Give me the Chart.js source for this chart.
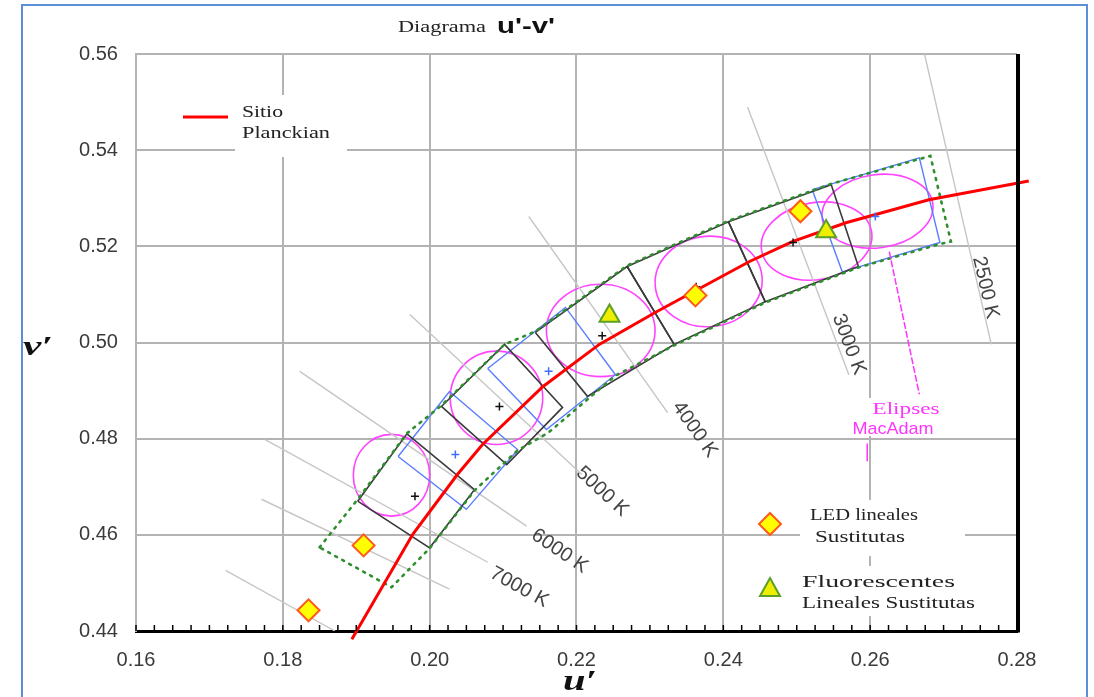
<!DOCTYPE html>
<html>
<head>
<meta charset="utf-8">
<script src="https://cdn.jsdelivr.net/npm/chart.js@4.4.0/dist/chart.umd.min.js"></script>
<style>
  html, body { margin: 0; padding: 0; background: #fff; }
  #wrap { position: relative; width: 1094px; height: 697px; overflow: hidden; }
  #frame { position: absolute; left: 21px; top: 4px; width: 1063px; height: 720px; border: 2px solid #5b8fd6; border-bottom: none; }
  canvas { position: absolute; left: 0; top: 0; }
</style>
</head>
<body>
<div id="wrap">
  <div id="frame"></div>
  <canvas id="c" width="1094" height="697"></canvas>
</div>
<script>
// axes
const xTicks = [0.16, 0.18, 0.20, 0.22, 0.24, 0.26, 0.28];
const yTicks = [0.44, 0.46, 0.48, 0.50, 0.52, 0.54, 0.56];

// Planckian locus
const locusU = [0.1894, 0.1977, 0.2038, 0.2072, 0.2154, 0.2231, 0.2309, 0.2435, 0.2494, 0.2567, 0.2680, 0.2816];
const locusV = [0.4383, 0.4601, 0.4726, 0.4788, 0.4908, 0.4996, 0.5064, 0.5168, 0.5210, 0.5249, 0.5297, 0.5336];

// isotherms
const isoNames = ["2500 K", "3000 K", "4000 K", "5000 K", "6000 K", "7000 K", "", ""];
const isoFrom = [[0.2674, 0.5600], [0.2433, 0.5490], [0.2135, 0.5262], [0.1973, 0.5058], [0.1823, 0.4940], [0.1776, 0.4798], [0.1771, 0.4674], [0.1722, 0.4526]];
const isoTo = [[0.2765, 0.4996], [0.2571, 0.4933], [0.2324, 0.4854], [0.2207, 0.4726], [0.2132, 0.4618], [0.2079, 0.4543], [0.2027, 0.4487], [0.1871, 0.4400]];
const isoLabelAt = [[0.2757, 0.5114], [0.2571, 0.4996], [0.2361, 0.4819], [0.2235, 0.4690], [0.2177, 0.4566], [0.2122, 0.4491], null, null];

// tolerance band (green dotted)
const bandU = [0.1850, 0.1901, 0.1969, 0.2016, 0.2102, 0.2144, 0.2269, 0.2407, 0.2547, 0.2682, 0.2710, 0.2695, 0.2584, 0.2457, 0.2333, 0.2253, 0.2162, 0.2120, 0.2061, 0.2000, 0.1948, 0.1850];
const bandV = [0.4574, 0.4672, 0.4811, 0.4869, 0.4996, 0.5023, 0.5160, 0.5253, 0.5330, 0.5388, 0.5210, 0.5205, 0.5156, 0.5083, 0.4994, 0.4931, 0.4813, 0.4776, 0.4692, 0.4572, 0.4491, 0.4574];

// quadrangles (black)
const quadsBlack = [
  [[0.1902, 0.4670], [0.1969, 0.4810], [0.2061, 0.4694], [0.2000, 0.4573]],
  [[0.2016, 0.4867], [0.2102, 0.4996], [0.2181, 0.4865], [0.2105, 0.4746]],
  [[0.2144, 0.5021], [0.2269, 0.5158], [0.2333, 0.4996], [0.2215, 0.4888]],
  [[0.2269, 0.5158], [0.2407, 0.5251], [0.2457, 0.5085], [0.2333, 0.4996]],
  [[0.2407, 0.5251], [0.2547, 0.5328], [0.2584, 0.5158], [0.2457, 0.5085]]
];
const centersBlack = [[0.1980, 0.4680], [0.2095, 0.4867], [0.2235, 0.5014], [0.2363, 0.5116], [0.2495, 0.5208]];

// quadrangles (blue)
const quadsBlue = [
  [[0.1957, 0.4763], [0.2027, 0.4898], [0.2120, 0.4777], [0.2050, 0.4653]],
  [[0.2079, 0.4946], [0.2185, 0.5073], [0.2253, 0.4933], [0.2159, 0.4819]],
  [[0.2521, 0.5318], [0.2667, 0.5384], [0.2695, 0.5208], [0.2562, 0.5147]]
];
const centersBlue = [[0.2035, 0.4767], [0.2162, 0.4940], [0.2607, 0.5262]];

// MacAdam ellipses: centre, half axes (u', v'), tilt in degrees
const macU = [0.1948, 0.2091, 0.2233, 0.2380, 0.2527, 0.2610];
const macV = [0.4724, 0.4885, 0.5025, 0.5127, 0.5211, 0.5273];
const macRu = [0.0052, 0.0063, 0.0074, 0.0073, 0.0076, 0.0076];
const macRv = [0.0085, 0.0097, 0.0096, 0.0094, 0.0080, 0.0076];
const macTilt = [0, 0, 0, -5, -10, -8];

// lamps
const ledU = [0.1835, 0.1910, 0.2362, 0.2505];
const ledV = [0.4443, 0.4578, 0.5098, 0.5273];
const fluoU = [0.2245, 0.2540];
const fluoV = [0.5055, 0.5231];

const pts = (us, vs) => us.map((u, i) => ({ x: u, y: vs[i] }));
const pairs = (arr) => arr.map(p => ({ x: p[0], y: p[1] }));

function path(data, color, width, order, extra) {
  return Object.assign({
    type: "scatter", showLine: true, data, borderColor: color, borderWidth: width,
    pointRadius: 0, fill: false, tension: 0, order
  }, extra || {});
}

const datasets = [];
isoFrom.forEach((a, i) => datasets.push(path(pairs([a, isoTo[i]]), "#c6c6c6", 1.4, 60)));
quadsBlue.forEach(q => datasets.push(path(pairs(q.concat([q[0]])), "#5a7dff", 1.4, 50)));
quadsBlack.forEach(q => datasets.push(path(pairs(q.concat([q[0]])), "#3a3a3a", 1.6, 45)));
datasets.push(path(pts(bandU, bandV), "#2f8f2f", 2.6, 40, { borderDash: [2, 6], borderCapStyle: "round" }));
datasets.push(path(pts(locusU, locusV), "#ff0000", 3, 30, { clip: false }));
datasets.push({ type: "scatter", data: pairs(centersBlack), pointStyle: "cross", pointRadius: 4, borderColor: "#111", borderWidth: 1.5, order: 20 });
datasets.push({ type: "scatter", data: pairs(centersBlue), pointStyle: "cross", pointRadius: 4, borderColor: "#3f6dff", borderWidth: 1.5, order: 20 });
datasets.push({ type: "scatter", data: pts(ledU, ledV), pointStyle: "rectRot", pointRadius: 11, backgroundColor: "#ffff00", borderColor: "#ff5a1e", borderWidth: 2, order: 10 });
datasets.push({ type: "scatter", data: pts(fluoU, fluoV), pointStyle: "triangle", pointRadius: 11.5, backgroundColor: "#eeee00", borderColor: "#5c9e2a", borderWidth: 2, order: 10 });

// text, optionally stretched to a given width (the picture is widened)
function text(ctx, s, x, y, font, color, align, angle, width) {
  ctx.save();
  ctx.font = font;
  const k = width ? width / ctx.measureText(s).width : 1;
  ctx.translate(x, y);
  if (angle) ctx.rotate(angle);
  ctx.scale(k, 1);
  ctx.fillStyle = color;
  ctx.textAlign = align || "left";
  ctx.textBaseline = "middle";
  ctx.fillText(s, 0, 0);
  ctx.restore();
}

const SERIF = "'Liberation Serif', 'Times New Roman', serif";
const SANS = "'Liberation Sans', Arial, sans-serif";

const decor = {
  id: "decor",
  beforeDatasetsDraw(chart) {
    const { ctx } = chart;
    const sx = chart.scales.x, sy = chart.scales.y;
    ctx.save();
    ctx.fillStyle = "#fff";
    ctx.fillRect(235, 95, 112, 62);
    ctx.fillRect(800, 500, 165, 56);
    ctx.fillRect(798, 566, 182, 50);
    ctx.fillRect(848, 398, 108, 38);
    // MacAdam ellipses
    ctx.strokeStyle = "#ff44ff";
    ctx.lineWidth = 1.6;
    macU.forEach((u, i) => {
      const cx = sx.getPixelForValue(u), cy = sy.getPixelForValue(macV[i]);
      const rx = sx.getPixelForValue(u + macRu[i]) - cx;
      const ry = cy - sy.getPixelForValue(macV[i] + macRv[i]);
      ctx.beginPath();
      ctx.ellipse(cx, cy, rx, ry, macTilt[i] * Math.PI / 180, 0, Math.PI * 2);
      ctx.stroke();
    });
    ctx.restore();
  },
  afterDatasetsDraw(chart) {
    const { ctx, chartArea: a } = chart;
    const sx = chart.scales.x, sy = chart.scales.y;
    const X = u => sx.getPixelForValue(u), Y = v => sy.getPixelForValue(v);

    // tick labels
    xTicks.forEach(t => text(ctx, t.toFixed(2), X(t), 660, "20px " + SANS, "#3a3a3a", "center", 0, 39));
    yTicks.forEach(t => text(ctx, t.toFixed(2), 118, Y(t), "20px " + SANS, "#3a3a3a", "right", 0, 39));

    // isotherm labels, along their lines
    isoLabelAt.forEach((p, i) => {
      if (!p) return;
      const ang = Math.atan2(Y(isoTo[i][1]) - Y(isoFrom[i][1]), X(isoTo[i][0]) - X(isoFrom[i][0]));
      text(ctx, isoNames[i], X(p[0]), Y(p[1]), "20px " + SANS, "#444", "center", ang);
    });

    // pointer to the ellipses
    ctx.save();
    ctx.strokeStyle = "#ff33ff";
    ctx.lineWidth = 1.5;
    ctx.setLineDash([7, 2]);
    ctx.beginPath();
    ctx.moveTo(X(0.2626), Y(0.5189));
    ctx.lineTo(X(0.2667), Y(0.4892));
    ctx.stroke();
    ctx.setLineDash([]);
    ctx.beginPath();
    ctx.moveTo(X(0.2596), Y(0.4790));
    ctx.lineTo(X(0.2596), Y(0.4753));
    ctx.stroke();
    ctx.restore();
    text(ctx, "Elipses", 906, 410, "17px " + SERIF, "#ff33ff", "center", 0, 67);
    text(ctx, "MacAdam", 893, 429, "17px " + SANS, "#ff33ff", "center", 0, 81);

    // minor ticks on the u' axis
    ctx.save();
    ctx.strokeStyle = "#000";
    ctx.lineWidth = 1.5;
    ctx.beginPath();
    for (let k = 0; k <= 48; k++) {
      const x = X(0.16 + k * 0.0025);
      ctx.moveTo(x, a.bottom);
      ctx.lineTo(x, a.bottom - 6);
    }
    ctx.stroke();
    // right frame
    ctx.lineWidth = 4;
    ctx.beginPath();
    ctx.moveTo(a.right + 1, a.top);
    ctx.lineTo(a.right + 1, a.bottom + 1.5);
    ctx.stroke();
    ctx.restore();

    // legend: Planckian locus
    ctx.save();
    ctx.strokeStyle = "#ff0000";
    ctx.lineWidth = 3;
    ctx.beginPath();
    ctx.moveTo(183, 117);
    ctx.lineTo(228, 117);
    ctx.stroke();
    ctx.restore();
    text(ctx, "Sitio", 242, 113, "17px " + SERIF, "#222", "left", 0, 41);
    text(ctx, "Planckian", 242, 134, "17px " + SERIF, "#222", "left", 0, 88);

    // legend: lamps
    ctx.save();
    ctx.fillStyle = "#ffff00";
    ctx.strokeStyle = "#ff5a1e";
    ctx.lineWidth = 2;
    ctx.beginPath();
    ctx.moveTo(759, 524); ctx.lineTo(770, 513); ctx.lineTo(781, 524); ctx.lineTo(770, 535); ctx.closePath();
    ctx.fill(); ctx.stroke();
    ctx.fillStyle = "#eeee00";
    ctx.strokeStyle = "#5c9e2a";
    ctx.beginPath();
    ctx.moveTo(770, 578); ctx.lineTo(780, 596); ctx.lineTo(760, 596); ctx.closePath();
    ctx.fill(); ctx.stroke();
    ctx.restore();
    text(ctx, "LED lineales", 810, 516, "17px " + SERIF, "#222", "left", 0, 108);
    text(ctx, "Sustitutas", 815, 538, "17px " + SERIF, "#222", "left", 0, 90);
    text(ctx, "Fluorescentes", 802, 583, "17px " + SERIF, "#222", "left", 0, 153);
    text(ctx, "Lineales Sustitutas", 802, 604, "17px " + SERIF, "#222", "left", 0, 173);

    // titles
    text(ctx, "Diagrama", 398, 28, "16px " + SERIF, "#222", "left", 0, 88);
    text(ctx, "u'-v'", 497, 27, "bold 22px " + SANS, "#111", "left", 0, 58);
    text(ctx, "v\u2032", 38, 348, "bold italic 28px " + SERIF, "#111", "center", 0, 30);
    text(ctx, "u\u2032", 580, 682, "bold italic 30px " + SERIF, "#111", "center", 0, 34);
  }
};

new Chart(document.getElementById("c"), {
  type: "scatter",
  data: { datasets },
  options: {
    responsive: false,
    animation: false,
    devicePixelRatio: 1,
    layout: { padding: { top: 54, right: 77, left: 0, bottom: 0 } },
    plugins: { legend: { display: false }, tooltip: { enabled: false }, title: { display: false } },
    scales: {
      x: {
        type: "linear", min: 0.16, max: 0.28,
        afterBuildTicks: s => { s.ticks = xTicks.map(v => ({ value: v })); },
        afterFit: s => { s.height = 66; },
        ticks: { display: false },
        grid: { color: "#b3b3b3", lineWidth: 2, drawTicks: false },
        border: { color: "#000", width: 3 }
      },
      y: {
        type: "linear", min: 0.44, max: 0.56,
        afterBuildTicks: s => { s.ticks = yTicks.map(v => ({ value: v })); },
        afterFit: s => { s.width = 136; },
        ticks: { display: false },
        grid: { color: "#b3b3b3", lineWidth: 2, drawTicks: false },
        border: { color: "#b3b3b3", width: 2 }
      }
    }
  },
  plugins: [decor]
});
</script>
</body>
</html>
